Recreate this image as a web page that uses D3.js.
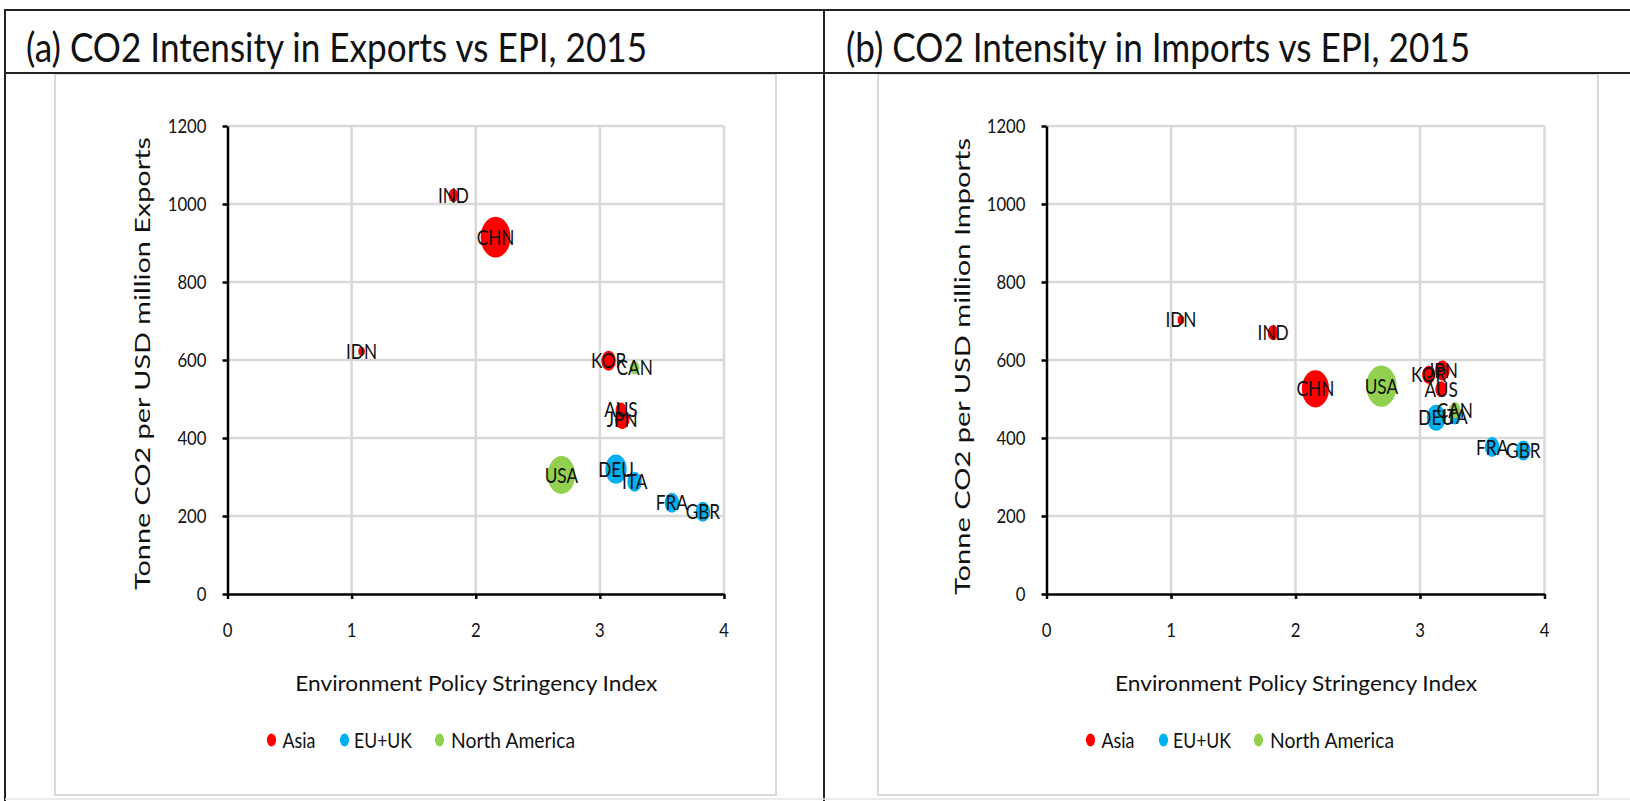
<!DOCTYPE html>
<html>
<head>
<meta charset="utf-8">
<script src="https://cdn.jsdelivr.net/npm/d3@7"></script>
<style>
  body { margin: 0; background: #fff; }
  svg { display: block; }
  text { font-family: Lato, "Open Sans", "Liberation Sans", sans-serif; fill: #111; }
</style>
</head>
<body>
<svg id="chart" width="1630" height="801"></svg>
<script>
// ---------------- data ----------------
const countries = ["IDN", "IND", "CHN", "KOR", "JPN", "AUS", "DEU", "ITA", "FRA", "GBR", "USA", "CAN"];
const regionOf  = ["Asia", "Asia", "Asia", "Asia", "Asia", "Asia", "EU+UK", "EU+UK", "EU+UK", "EU+UK", "North America", "North America"];
const epi       = [1.08, 1.82, 2.16, 3.07, 3.18, 3.17, 3.13, 3.28, 3.58, 3.83, 2.69, 3.28];
const exportIntensity = [622, 1022, 915, 598, 448, 472, 320, 288, 234, 211, 305, 580];
const importIntensity = [703, 670, 526, 562, 573, 525, 452, 455, 377, 368, 533, 471];
const exportSize = [110, 243, 2270, 540, 540, 300, 1170, 540, 540, 540, 1950, 243];
const importSize = [115, 304, 1890, 440, 540, 346, 914, 346, 540, 540, 2340, 346];
const regions = ["Asia", "EU+UK", "North America"];
const regionColors = ["#FF0000", "#00B0F0", "#92D050"];
const xTicks = [0, 1, 2, 3, 4];
const yTicks = [0, 200, 400, 600, 800, 1000, 1200];
const titles = ["(a) CO2 Intensity in Exports vs EPI, 2015", "(b) CO2 Intensity in Imports vs EPI, 2015"];
const yTitles = ["Tonne CO2 per USD million Exports", "Tonne CO2 per USD million Imports"];
const xTitle = "Environment Policy Stringency Index";

// ---------------- layout ----------------
const svg = d3.select("#chart");
svg.append("rect").attr("width", 1630).attr("height", 801).attr("fill", "#fff");

const panels = [
  { title: titles[0], titleX: 26, titleLen: 621, frameX: 55, frameW: 721,
    x0: 227.5, x4: 724, yT: yTitles[0], ytX: 142, ytY: 363.5, ytLen: 453,
    values: exportIntensity, sizes: exportSize },
  { title: titles[1], titleX: 846, titleLen: 624, frameX: 878, frameW: 720,
    x0: 1046.5, x4: 1544.5, yT: yTitles[1], ytX: 962, ytY: 366.5, ytLen: 457,
    values: importIntensity, sizes: importSize }
];

const yTop = 126, yBottom = 594;
const rScale = d3.scaleSqrt().domain([0, 2400]).range([0, 21]);
const aspect = 0.73;
const gridColor = "#D9D9D9";
const colorOf = d3.scaleOrdinal().domain(regions).range(regionColors);

// light frames of each chart
panels.forEach(p => {
  svg.append("rect")
    .attr("x", p.frameX).attr("y", 74).attr("width", p.frameW).attr("height", 721)
    .attr("fill", "none").attr("stroke", gridColor).attr("stroke-width", 2);
});

// table lines
const tline = (x1, y1, x2, y2, c, w) => svg.append("line")
  .attr("x1", x1).attr("y1", y1).attr("x2", x2).attr("y2", y2)
  .attr("stroke", c).attr("stroke-width", w);
tline(4, 10, 1630, 10, "#222", 2);
tline(4, 73, 1630, 73, "#222", 2);
tline(5, 9, 5, 801, "#222", 2);
tline(824, 9, 824, 801, "#222", 2);
tline(5, 799, 1630, 799, "#e6e6e6", 1.5);

function scaledText(g, x, y, str, size, sx, anchor) {
  return g.append("text")
    .attr("transform", `translate(${x},${y}) scale(${sx},1)`)
    .attr("text-anchor", anchor || "middle")
    .attr("dy", "0.36em")
    .attr("font-size", size)
    .text(str);
}

panels.forEach(p => {
  const g = svg.append("g");
  const x = d3.scaleLinear().domain([0, 4]).range([p.x0, p.x4]);
  const y = d3.scaleLinear().domain([0, 1200]).range([yBottom, yTop]);

  // title
  g.append("text")
    .attr("x", p.titleX).attr("y", 62)
    .attr("font-size", 40)
    .attr("textLength", p.titleLen).attr("lengthAdjust", "spacingAndGlyphs")
    .text(p.title);

  // gridlines
  g.selectAll(".hg").data(yTicks.filter(d => d > 0)).join("line")
    .attr("x1", x(0)).attr("x2", x(4))
    .attr("y1", d => y(d)).attr("y2", d => y(d))
    .attr("stroke", gridColor).attr("stroke-width", 2.5);
  g.selectAll(".vg").data(xTicks.filter(d => d > 0)).join("line")
    .attr("x1", d => x(d)).attr("x2", d => x(d))
    .attr("y1", y(0)).attr("y2", y(1200))
    .attr("stroke", gridColor).attr("stroke-width", 2.5);

  // axes (lines + tick marks)
  const ax = g.append("g").attr("transform", `translate(0,${y(0)})`)
    .call(d3.axisBottom(x).tickValues(xTicks).tickSize(5).tickSizeOuter(0).tickFormat(""));
  const ay = g.append("g").attr("transform", `translate(${x(0)},0)`)
    .call(d3.axisLeft(y).tickValues(yTicks).tickSize(5).tickSizeOuter(0).tickFormat(""));
  [ax, ay].forEach(a => {
    a.select(".domain").attr("stroke", "#000").attr("stroke-width", 2.5);
    a.selectAll(".tick line").attr("stroke", "#000").attr("stroke-width", 2.5);
  });

  // tick labels
  xTicks.forEach(t => scaledText(g, x(t), 630, String(t), 19, 0.88));
  yTicks.forEach(t => scaledText(g, x(0) - 21, y(t), String(t), 19, 0.88, "end"));

  // axis titles
  g.append("text")
    .attr("transform", `translate(${p.ytX},${p.ytY}) rotate(-90)`)
    .attr("text-anchor", "middle").attr("dy", "0.36em")
    .attr("font-size", 22)
    .attr("textLength", p.ytLen).attr("lengthAdjust", "spacingAndGlyphs")
    .text(p.yT);
  g.append("text")
    .attr("x", (p.x0 + p.x4) / 2 + 0.5).attr("y", 683)
    .attr("text-anchor", "middle").attr("dy", "0.36em")
    .attr("font-size", 21)
    .attr("textLength", 362).attr("lengthAdjust", "spacingAndGlyphs")
    .text(xTitle);

  // bubbles: drawn series by series
  const idx = d3.range(countries.length);
  const order = regions.flatMap(r => idx.filter(i => regionOf[i] === r));
  g.selectAll(".bub").data(order).join("ellipse")
    .attr("cx", i => x(epi[i])).attr("cy", i => y(p.values[i]))
    .attr("rx", i => rScale(p.sizes[i]) * aspect)
    .attr("ry", i => rScale(p.sizes[i]))
    .attr("fill", i => colorOf(regionOf[i]));
  order.forEach(i => scaledText(g, x(epi[i]), y(p.values[i]), countries[i], 21, 0.82));

  // legend
  const legMarker = [44, 117, 212];
  const legText = [55, 126.5, 223.5];
  const legLen = [33, 58, 124];
  regions.forEach((r, k) => {
    g.append("ellipse")
      .attr("cx", p.x0 + legMarker[k]).attr("cy", 740)
      .attr("rx", 4.6).attr("ry", 6.5).attr("fill", regionColors[k]);
    g.append("text")
      .attr("x", p.x0 + legText[k]).attr("y", 740).attr("dy", "0.36em")
      .attr("font-size", 21)
      .attr("textLength", legLen[k]).attr("lengthAdjust", "spacingAndGlyphs")
      .text(r);
  });
});
</script>
</body>
</html>
